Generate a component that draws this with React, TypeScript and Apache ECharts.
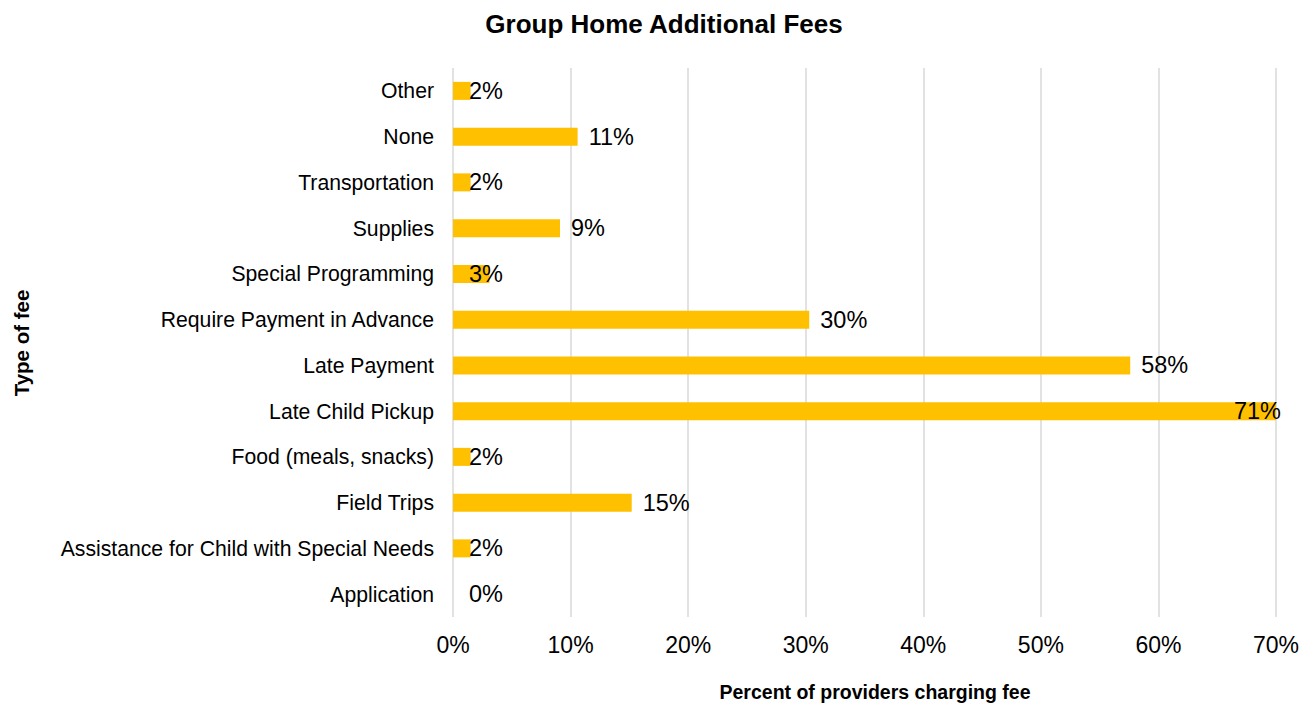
import React, { useEffect, useRef } from "react";
import * as echarts from "echarts";

const categories = [
  "Other",
  "None",
  "Transportation",
  "Supplies",
  "Special Programming",
  "Require Payment in Advance",
  "Late Payment",
  "Late Child Pickup",
  "Food (meals, snacks)",
  "Field Trips",
  "Assistance for Child with Special Needs",
  "Application",
];
const values = [1.5, 10.6, 1.5, 9.1, 3.1, 30.3, 57.6, 70.3, 1.5, 15.2, 1.5, 0];
const valueLabels = ["2%", "11%", "2%", "9%", "3%", "30%", "58%", "71%", "2%", "15%", "2%", "0%"];
const xTicks = [0, 10, 20, 30, 40, 50, 60, 70];

const FONT = "Liberation Sans";

export default function App() {
  const ref = useRef<HTMLDivElement>(null);
  useEffect(() => {
    if (!ref.current) return;
    const chart = echarts.init(ref.current, undefined, { renderer: "svg" });
    const data = values.map((v) => {
      let label: any;
      if (v < 4) {
        label = { position: [16, "50%"], align: "left", verticalAlign: "middle" };
      } else if (v > 65) {
        label = { position: "insideRight", distance: -5 };
      } else {
        label = { position: "right", distance: 11 };
      }
      return { value: v, label };
    });
    chart.setOption({
      animation: false,
      textStyle: { fontFamily: FONT },
      title: {
        text: "Group Home Additional Fees",
        left: 659,
        top: 6,
        textAlign: "center",
        textStyle: { fontFamily: FONT, fontSize: 26, fontWeight: "bold", color: "#000" },
      },
      grid: { left: 453, right: 33, top: 68, bottom: 89, containLabel: false },
      xAxis: {
        type: "value",
        min: xTicks[0],
        max: xTicks[xTicks.length - 1],
        interval: 10,
        axisLine: { show: false },
        axisTick: { show: false },
        splitLine: { show: true, lineStyle: { color: "#d9d9d9", width: 1.5 } },
        axisLabel: {
          formatter: "{value}%",
          fontFamily: FONT,
          fontSize: 23,
          color: "#000",
          margin: 16,
        },
      },
      yAxis: {
        type: "category",
        inverse: true,
        data: categories,
        axisLine: { show: false },
        axisTick: { show: false },
        splitLine: { show: false },
        axisLabel: { fontFamily: FONT, fontSize: 21.2, color: "#000", margin: 19 },
      },
      graphic: [
        {
          type: "text",
          x: 21,
          y: 343,
          rotation: Math.PI / 2,
          style: {
            text: "Type of fee",
            fontFamily: FONT,
            fontSize: 20.5,
            fontWeight: "bold",
            fill: "#000",
            align: "center",
            verticalAlign: "middle",
          },
        },
        {
          type: "text",
          x: 875,
          y: 692,
          style: {
            text: "Percent of providers charging fee",
            fontFamily: FONT,
            fontSize: 19.5,
            fontWeight: "bold",
            fill: "#000",
            align: "center",
            verticalAlign: "middle",
          },
        },
      ],
      series: [
        {
          type: "bar",
          data,
          barWidth: 18,
          itemStyle: { color: "#FFC000" },
          label: {
            show: true,
            fontFamily: FONT,
            fontSize: 23.5,
            color: "#000",
            formatter: (p: any) => valueLabels[p.dataIndex],
          },
        },
      ],
    });
    return () => chart.dispose();
  }, []);
  return (
    <div
      ref={ref}
      style={{ position: "absolute", left: 0, top: 0, width: 1309, height: 706, background: "#fff" }}
    />
  );
}
